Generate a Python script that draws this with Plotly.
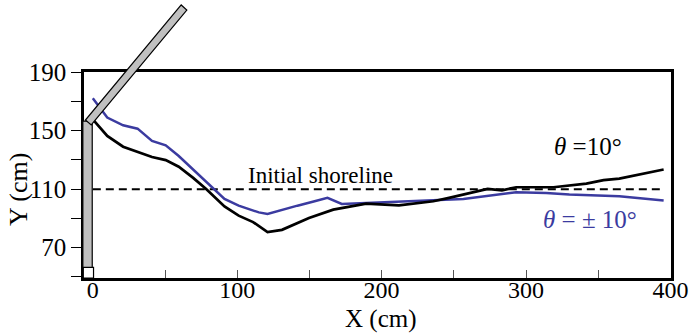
import plotly.graph_objects as go

# ---- data ----
x_black = [0, 10, 21, 31, 41, 50.5, 59.5, 69.5, 78.3, 91.2, 101, 111, 121, 131, 149.7, 166.5, 189.3, 212, 235.8, 246.7, 256.6, 273.4, 283.3, 293.2, 319, 341.8, 353.7, 364.6, 395.3]
y_black = [157.7, 146.3, 139, 135.3, 131.9, 129.8, 125.3, 117.7, 110.2, 98.2, 91.9, 87.5, 80.7, 82.2, 90.3, 96, 100.1, 98.9, 101.7, 104.0, 106.3, 110.2, 109.2, 111.3, 111.3, 113.8, 116.1, 117.2, 123.4]

x_blue = [0, 10, 21, 31, 41, 50.5, 59.5, 69.5, 81.3, 91.2, 101, 115, 121, 131, 141.7, 153.6, 162.5, 172.4, 189.3, 212, 235.8, 256.6, 293.2, 314, 330, 353.7, 364.6, 395.3]
y_blue = [172, 158.9, 153.6, 151.3, 142.9, 139.9, 132.6, 123.4, 112, 103.3, 98.7, 94.1, 93, 96, 98.7, 101.7, 104, 99.9, 100.6, 101.7, 102.8, 103.3, 107.9, 107.4, 106.3, 105.6, 105.1, 102.3]

shore_x = [0, 396]
shore_y = [110, 110]

x_ticks = [0, 50, 100, 150, 200, 250, 300, 350, 400]
x_ticktext = ["0", "", "100", "", "200", "", "300", "", "400"]
y_ticks = [50, 70, 90, 110, 130, 150, 170, 190]
y_ticktext = ["", "70", "", "110", "", "150", "", "190"]

X_RANGE = [-6.1, 400.4]
Y_RANGE = [49.3, 190]

# wall (decoration) geometry in data units
wall_vertical = [(-6.9, 156.5), (-0.4, 156.5), (-0.4, 56.6), (-6.9, 56.6)]
wall_base = [(-6.6, 56.6), (0.5, 56.6), (0.5, 49.3), (-6.6, 49.3)]
wall_diag = [(-5.1, 157.2), (-1.1, 153.8), (65.1, 232.3), (61.2, 235.8)]

BLUE = "#3b3ba0"
FONT = "Liberation Serif"

W, H = 693, 333
ML, MR, MT, MB = 84, 22, 72, 55
PW, PH = W - ML - MR, H - MT - MB


def to_paper(pts):
    out = []
    for x, y in pts:
        px = (x - X_RANGE[0]) / (X_RANGE[1] - X_RANGE[0])
        py = (y - Y_RANGE[0]) / (Y_RANGE[1] - Y_RANGE[0])
        out.append((px, py))
    return "M " + " L ".join(f"{a:.5f},{b:.5f}" for a, b in out) + " Z"


def pix_to_paper(px, py):
    return (px - ML) / PW, (H - MB - py) / PH


fig = go.Figure()
fig.add_trace(go.Scatter(x=shore_x, y=shore_y, mode="lines",
                         line=dict(color="black", width=2, dash="8px,5px"), showlegend=False))
fig.add_trace(go.Scatter(x=x_blue, y=y_blue, mode="lines",
                         line=dict(color=BLUE, width=2.5), showlegend=False))
fig.add_trace(go.Scatter(x=x_black, y=y_black, mode="lines",
                         line=dict(color="black", width=2.7), showlegend=False))

shapes = []
for pts, fill in [(wall_base, "white"), (wall_vertical, "#c0c0c0"), (wall_diag, "#c0c0c0")]:
    shapes.append(dict(type="path", xref="paper", yref="paper", path=to_paper(pts),
                       fillcolor=fill, line=dict(color="black", width=1.2), layer="above"))

xt_x, xt_y = pix_to_paper(381, 319)
yt_x, yt_y = pix_to_paper(18, 190)

tickfont = dict(family=FONT, size=24, color="black")
fig.update_layout(
    width=W, height=H,
    margin=dict(l=ML, r=MR, t=MT, b=MB),
    paper_bgcolor="white", plot_bgcolor="white",
    font=dict(family=FONT, size=25, color="black"),
    shapes=shapes,
    xaxis=dict(range=X_RANGE, tickvals=x_ticks, ticktext=x_ticktext, tickfont=tickfont,
               ticks="inside", ticklen=8, tickwidth=1.2, tickcolor="#555",
               showline=True, linecolor="black", linewidth=2.5, mirror=True,
               showgrid=False, zeroline=False, automargin=False, ticklabelstandoff=-12),
    yaxis=dict(range=Y_RANGE, tickvals=y_ticks, ticktext=y_ticktext,
               tickfont=dict(family=FONT, size=25, color="black"),
               ticks="outside", ticklen=10, tickwidth=1.2, tickcolor="black",
               showline=True, linecolor="black", linewidth=2.5, mirror=True,
               showgrid=False, zeroline=False, automargin=False),
    annotations=[
        dict(x=xt_x, y=xt_y, xref="paper", yref="paper", text="X (cm)",
             showarrow=False, xanchor="center", yanchor="middle",
             font=dict(family=FONT, size=25, color="black")),
        dict(x=yt_x, y=yt_y, xref="paper", yref="paper", text="Y (cm)", textangle=-90,
             showarrow=False, xanchor="center", yanchor="middle",
             font=dict(family=FONT, size=26, color="black")),
        dict(x=158, y=119.6, xref="x", yref="y", text="Initial shoreline",
             showarrow=False, font=dict(family=FONT, size=23, color="black")),
        dict(x=342.6, y=138.8, xref="x", yref="y", text="<i>θ</i> =10°",
             showarrow=False, font=dict(family=FONT, size=25, color="black")),
        dict(x=344.3, y=89.6, xref="x", yref="y", text="<i>θ</i> = ± 10°",
             showarrow=False, font=dict(family=FONT, size=25, color=BLUE)),
    ],
)

fig.write_html("out.html")
